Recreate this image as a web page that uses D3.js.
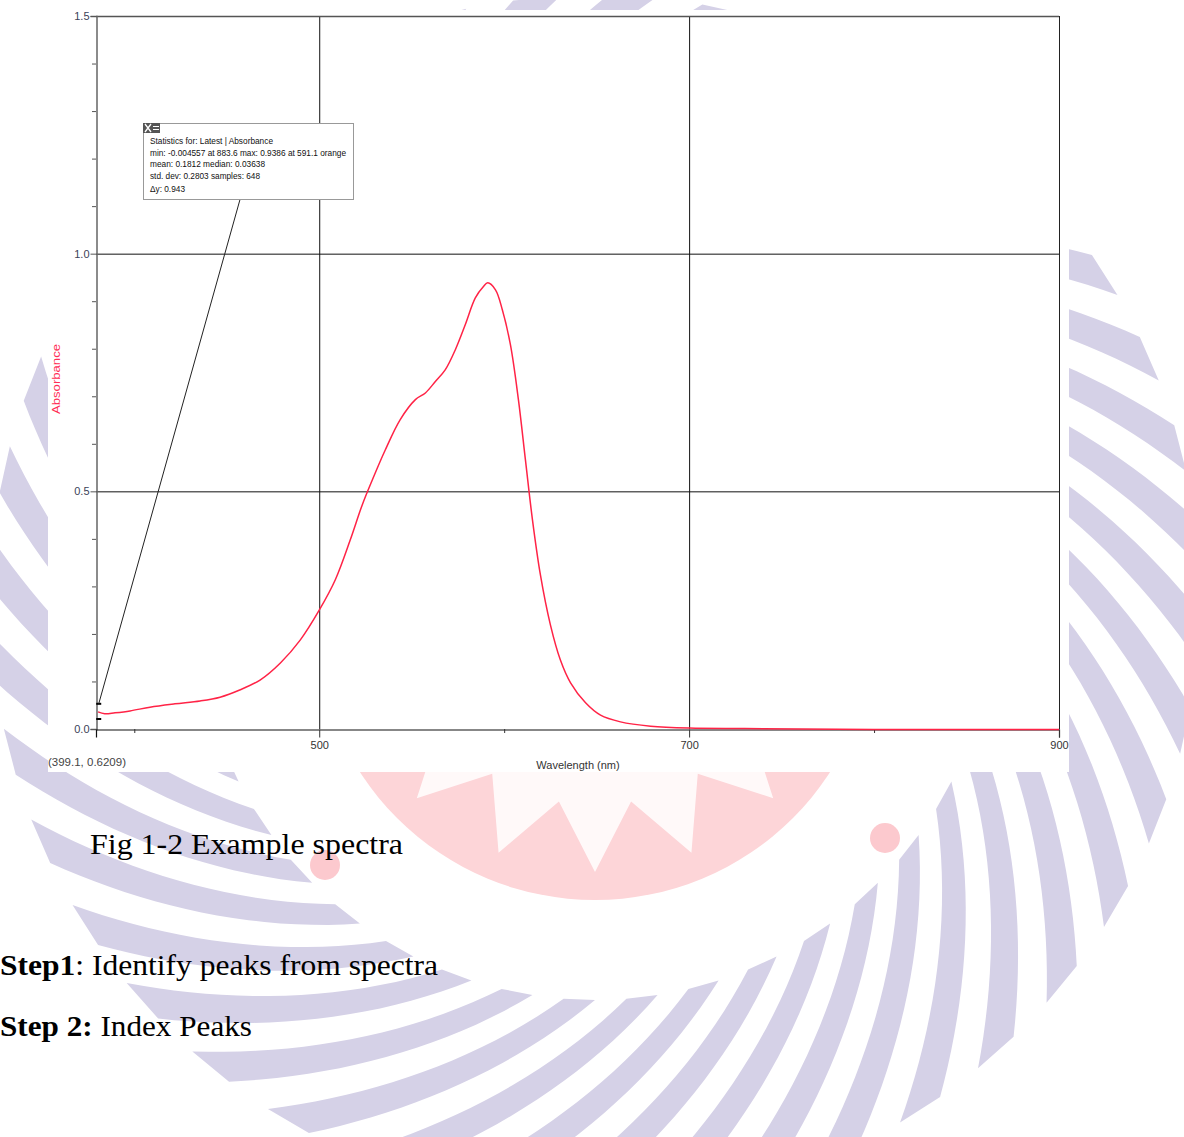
<!DOCTYPE html>
<html>
<head>
<meta charset="utf-8">
<script src="https://cdn.jsdelivr.net/npm/d3@7"></script>
<style>
html, body { margin: 0; padding: 0; background: #fff; }
svg { display: block; }
</style>
</head>
<body>
<svg id="page" width="1184" height="1137"></svg>
<script>
// spectrum
const wavelength = [380.4, 384, 389.6, 397.7, 408.5, 422, 435.6, 446.4, 457, 468, 479, 489.7, 500,
    508.7, 516.8, 523.3, 528.7, 535.7, 543.8, 552, 557.4, 562.8, 568.2, 573.6, 579, 584.4, 588.8,
    591.1, 595.3, 599, 603.4, 607.7, 611.5, 615.3, 619.6, 625, 630.4, 635.9, 644, 652.1, 662.9,
    679.2, 700, 730, 760, 800, 850, 900];
const absorbance = [0.036, 0.032, 0.034, 0.038, 0.046, 0.053, 0.059, 0.067, 0.082, 0.103, 0.139, 0.187, 0.25,
    0.314, 0.398, 0.472, 0.524, 0.587, 0.651, 0.693, 0.707, 0.731, 0.756, 0.798, 0.851, 0.907, 0.931,
    0.9386, 0.924, 0.882, 0.808, 0.693, 0.566, 0.44, 0.324, 0.219, 0.145, 0.097, 0.055, 0.029, 0.015,
    0.006, 0.002, 0.001, 0.0, -0.001, -0.001, -0.001];

const xMajorTicks = [500, 700, 900];
const xMinorTicks = [400, 600, 800];
const yMajorTicks = [0, 0.5, 1.0, 1.5];
const yMinorTicks = [0.1, 0.2, 0.3, 0.4, 0.6, 0.7, 0.8, 0.9, 1.1, 1.2, 1.3, 1.4];

const cursorWavelength = 380.5;
const cursorMarks = [0.053, 0.021];
const cursorLabel = "(399.1, 0.6209)";

const statsLines = [
    "Statistics for: Latest | Absorbance",
    "min: -0.004557 at 883.6 max: 0.9386 at 591.1 orange",
    "mean: 0.1812 median: 0.03638",
    "std. dev: 0.2803 samples: 648",
    "\u0394y: 0.943"
];
const statsWidths = [123, 196, 115, 110, 35];

const svg = d3.select("#page");

// ---- watermark of the scanned page (behind everything)
const wm = svg.append("g");
const wcx = 595, wcy = 600;

wm.append("circle").attr("cx", wcx).attr("cy", 620).attr("r", 280).attr("fill", "#fdd5d8");

let starPts = d3.range(32).map(i => {
    let a = i * Math.PI / 16 + Math.PI / 2;
    let r = i % 2 ? 185 : 252;
    return [wcx + r * Math.cos(a), 620 + r * Math.sin(a)];
});
wm.append("path").attr("d", d3.line()(starPts) + "Z").attr("fill", "#fff").attr("opacity", 0.85);

wm.selectAll("circle.dot").data([[885, 838], [325, 865]]).enter()
    .append("circle").attr("cx", d => d[0]).attr("cy", d => d[1]).attr("r", 15).attr("fill", "#fcc9ce");

// curved spokes (log spiral)
const nSpokes = 40, r1 = 400, r2 = 605, k = 0.84, frac = 0.5;
let spokes = d3.range(nSpokes).map(i => {
    let t0 = i * 2 * Math.PI / nSpokes;
    let w = frac * 2 * Math.PI / nSpokes;
    let rs = d3.range(0, 21).map(j => r1 + (r2 - r1) * j / 20);
    let edgeA = rs.map(r => {
        let t = t0 + Math.log(r / r1) / k;
        return [wcx + r * Math.cos(t), wcy + r * Math.sin(t)];
    });
    let edgeB = rs.slice().reverse().map(r => {
        let t = t0 + w + Math.log(r / r1) / k;
        return [wcx + r * Math.cos(t), wcy + r * Math.sin(t)];
    });
    return edgeA.concat(edgeB);
});
wm.selectAll("path.spoke").data(spokes).enter()
    .append("path").attr("class", "spoke")
    .attr("d", d => d3.line()(d) + "Z")
    .attr("fill", "#d5d1e7");

// ---- the chart picture (white background)
svg.append("rect").attr("x", 48).attr("y", 10).attr("width", 1021).attr("height", 762).attr("fill", "#fff");

const plotLeft = 96, plotRight = 1059, plotTop = 16, plotBottom = 729;

const x = d3.scaleLinear().domain([379.3, 900]).range([plotLeft, plotRight]);
const y = d3.scaleLinear().domain([0, 1.5]).range([plotBottom, plotTop]);

const chart = svg.append("g").style("font-family", "'Liberation Sans', Arial, sans-serif");

// grid lines
chart.selectAll("line.hgrid").data(yMajorTicks.filter(v => v > 0 && v < 1.5)).enter()
    .append("line").attr("x1", plotLeft).attr("x2", plotRight)
    .attr("y1", d => y(d) + 0.5).attr("y2", d => y(d) + 0.5)
    .attr("stroke", "#111").attr("stroke-width", 1);
chart.selectAll("line.vgrid").data(xMajorTicks.filter(v => v < 900)).enter()
    .append("line").attr("y1", plotTop).attr("y2", plotBottom)
    .attr("x1", d => x(d) + 0.5).attr("x2", d => x(d) + 0.5)
    .attr("stroke", "#111").attr("stroke-width", 1);

// frame: top and right
chart.append("line").attr("x1", plotLeft).attr("x2", plotRight).attr("y1", plotTop + 0.5).attr("y2", plotTop + 0.5)
    .attr("stroke", "#555").attr("stroke-width", 1.5);
chart.append("line").attr("x1", plotRight + 0.5).attr("x2", plotRight + 0.5).attr("y1", plotTop).attr("y2", plotBottom)
    .attr("stroke", "#222").attr("stroke-width", 1);

// y axis
const yAxis = chart.append("g").attr("transform", "translate(" + (plotLeft + 0.5) + ",0)")
    .call(d3.axisLeft(y).tickValues(yMajorTicks).tickFormat(d3.format(".1f")).tickSize(6).tickPadding(1));
yAxis.select(".domain").attr("stroke", "#666").attr("stroke-width", 1.5);
yAxis.selectAll(".tick line").attr("stroke", "#555");
yAxis.selectAll(".tick text").attr("fill", "#3b4257").style("font-size", "11px");
chart.selectAll("line.yminor").data(yMinorTicks).enter()
    .append("line").attr("x1", plotLeft - 4).attr("x2", plotLeft)
    .attr("y1", d => y(d) + 0.5).attr("y2", d => y(d) + 0.5)
    .attr("stroke", "#555");

// x axis
const xAxis = chart.append("g").attr("transform", "translate(0," + (plotBottom + 0.5) + ")")
    .call(d3.axisBottom(x).tickValues(xMajorTicks).tickFormat(d3.format("d")).tickSize(8).tickPadding(4));
xAxis.select(".domain").attr("stroke", "#111").attr("stroke-width", 1.2);
xAxis.selectAll(".tick line").attr("stroke", "#333");
xAxis.selectAll(".tick text").attr("fill", "#333").style("font-size", "11px");
chart.selectAll("line.xminor").data(xMinorTicks).enter()
    .append("line").attr("y1", plotBottom).attr("y2", plotBottom + 4)
    .attr("x1", d => x(d) + 0.5).attr("x2", d => x(d) + 0.5)
    .attr("stroke", "#333");

// axis titles
chart.append("text").attr("x", 578).attr("y", 769).attr("text-anchor", "middle")
    .attr("fill", "#333").style("font-size", "11px").text("Wavelength (nm)");
chart.append("text").attr("transform", "translate(60,379) rotate(-90)").attr("text-anchor", "middle")
    .attr("fill", "#ff2d55").style("font-size", "11px")
    .attr("textLength", 70).attr("lengthAdjust", "spacingAndGlyphs").text("Absorbance");
chart.append("text").attr("x", 48).attr("y", 766).attr("fill", "#444").style("font-size", "11px")
    .attr("textLength", 78).attr("lengthAdjust", "spacingAndGlyphs").text(cursorLabel);

// spectrum
const spectrum = wavelength.map((w, i) => ({ w: w, a: absorbance[i] }));
chart.append("path").datum(spectrum)
    .attr("fill", "none").attr("stroke", "#ff2346").attr("stroke-width", 1.5)
    .attr("d", d3.line().x(d => x(d.w)).y(d => y(d.a)).curve(d3.curveCatmullRom));

// cursor marks
chart.selectAll("line.cursor").data(cursorMarks).enter()
    .append("line").attr("x1", x(cursorWavelength) - 2).attr("x2", x(cursorWavelength) + 3)
    .attr("y1", d => y(d)).attr("y2", d => y(d))
    .attr("stroke", "#000").attr("stroke-width", 2);

// stats box with leader line
const bx = 143.5, by = 123.5, bw = 210, bh = 76;
chart.append("line").attr("x1", 240).attr("y1", by + bh)
    .attr("x2", x(cursorWavelength) + 0.5).attr("y2", y(cursorMarks[0]))
    .attr("stroke", "#222").attr("stroke-width", 1);
chart.append("rect").attr("x", bx).attr("y", by).attr("width", bw).attr("height", bh)
    .attr("fill", "#fff").attr("stroke", "#999");
// close/menu icon
const icon = chart.append("g").attr("transform", "translate(143,123)");
icon.append("rect").attr("width", 17).attr("height", 10).attr("fill", "#555");
icon.append("path").attr("d", "M2,1 L8,9 M8,1 L2,9").attr("stroke", "#fff").attr("stroke-width", 1.3);
icon.append("path").attr("d", "M10,3.5 H16 M10,6.5 H16").attr("stroke", "#fff").attr("stroke-width", 1.2);

chart.selectAll("text.stats").data(statsLines).enter()
    .append("text").attr("x", 150).attr("y", (d, i) => 144 + i * 11.5 + (i === 4 ? 1.5 : 0))
    .attr("fill", "#111").style("font-size", "9px")
    .attr("textLength", (d, i) => statsWidths[i]).attr("lengthAdjust", "spacingAndGlyphs")
    .text(d => d);

// ---- page text below the figure
const page = svg.append("g").style("font-family", "'Liberation Serif', 'Times New Roman', serif")
    .attr("fill", "#000");
page.append("text").attr("x", 90).attr("y", 854).style("font-size", "29px")
    .attr("textLength", 313).attr("lengthAdjust", "spacingAndGlyphs").text("Fig 1-2 Example spectra");

const step1 = page.append("text").attr("x", 0).attr("y", 975).style("font-size", "29px")
    .attr("textLength", 438).attr("lengthAdjust", "spacingAndGlyphs");
step1.append("tspan").style("font-weight", "bold").text("Step1");
step1.append("tspan").text(": Identify peaks from spectra");

const step2 = page.append("text").attr("x", 0).attr("y", 1036).style("font-size", "29px")
    .attr("textLength", 252).attr("lengthAdjust", "spacingAndGlyphs");
step2.append("tspan").style("font-weight", "bold").text("Step 2:");
step2.append("tspan").text(" Index Peaks");
</script>
</body>
</html>
